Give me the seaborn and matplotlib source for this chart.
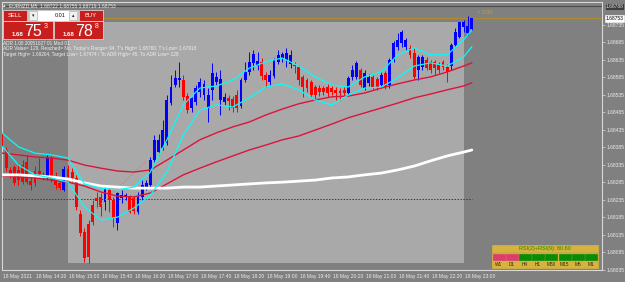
import matplotlib
matplotlib.use("Agg")
import matplotlib.pyplot as plt
import matplotlib.transforms as mtransforms
from matplotlib.patches import Rectangle
from matplotlib.ticker import FormatStrFormatter
import numpy as np
import seaborn as sns

# EURNZD M5, 18 May 2021, one entry per bar from 13:40 to 23:10
opens = [1.68426, 1.68377, 1.68320, 1.68328, 1.68320, 1.68334, 1.68343, 1.68288, 1.68317, 1.68317,
         1.68300, 1.68297, 1.68354, 1.68300, 1.68283, 1.68263, 1.68323, 1.68314, 1.68297, 1.68194,
         1.68142, 1.68165, 1.68220, 1.68240, 1.68243, 1.68228, 1.68263, 1.68234, 1.68168, 1.68240,
         1.68243, 1.68243, 1.68240, 1.68200, 1.68243, 1.68271, 1.68277, 1.68348, 1.68371, 1.68383,
         1.68397, 1.68511, 1.68563, 1.68577, 1.68577, 1.68531, 1.68497, 1.68514, 1.68543, 1.68534,
         1.68497, 1.68549, 1.68571, 1.68520, 1.68514, 1.68526, 1.68523, 1.68534, 1.68503, 1.68577,
         1.68600, 1.68626, 1.68617, 1.68629, 1.68592, 1.68571, 1.68589, 1.68629, 1.68640, 1.68634,
         1.68623, 1.68620, 1.68614, 1.68586, 1.68577, 1.68571, 1.68557, 1.68554, 1.68554, 1.68557,
         1.68554, 1.68549, 1.68546, 1.68549, 1.68540, 1.68586, 1.68586, 1.68606, 1.68554, 1.68569,
         1.68586, 1.68580, 1.68563, 1.68597, 1.68563, 1.68634, 1.68672, 1.68683, 1.68672, 1.68669,
         1.68654, 1.68606, 1.68614, 1.68634, 1.68629, 1.68629, 1.68620, 1.68629, 1.68614, 1.68617,
         1.68677, 1.68700, 1.68729, 1.68712, 1.68722]
highs = [1.68440, 1.68386, 1.68328, 1.68334, 1.68340, 1.68348, 1.68363, 1.68303, 1.68331, 1.68354,
         1.68314, 1.68363, 1.68360, 1.68314, 1.68291, 1.68331, 1.68334, 1.68325, 1.68305, 1.68205,
         1.68154, 1.68177, 1.68234, 1.68257, 1.68254, 1.68277, 1.68268, 1.68243, 1.68257, 1.68263,
         1.68254, 1.68248, 1.68245, 1.68257, 1.68291, 1.68291, 1.68357, 1.68420, 1.68423, 1.68463,
         1.68534, 1.68592, 1.68606, 1.68629, 1.68592, 1.68540, 1.68529, 1.68563, 1.68583, 1.68577,
         1.68554, 1.68626, 1.68600, 1.68606, 1.68540, 1.68534, 1.68531, 1.68549, 1.68583, 1.68629,
         1.68657, 1.68663, 1.68657, 1.68640, 1.68600, 1.68606, 1.68640, 1.68663, 1.68657, 1.68669,
         1.68663, 1.68629, 1.68620, 1.68592, 1.68583, 1.68577, 1.68563, 1.68563, 1.68560, 1.68566,
         1.68560, 1.68557, 1.68554, 1.68557, 1.68589, 1.68620, 1.68631, 1.68611, 1.68606, 1.68594,
         1.68592, 1.68586, 1.68600, 1.68603, 1.68640, 1.68689, 1.68712, 1.68720, 1.68697, 1.68677,
         1.68669, 1.68649, 1.68649, 1.68643, 1.68634, 1.68634, 1.68629, 1.68634, 1.68623, 1.68683,
         1.68726, 1.68743, 1.68749, 1.68760, 1.68755]
lows = [1.68377, 1.68317, 1.68297, 1.68277, 1.68277, 1.68280, 1.68280, 1.68263, 1.68274, 1.68300,
        1.68291, 1.68291, 1.68285, 1.68265, 1.68263, 1.68260, 1.68291, 1.68285, 1.68205, 1.68131,
        1.68057, 1.68054, 1.68162, 1.68211, 1.68188, 1.68205, 1.68200, 1.68157, 1.68148, 1.68225,
        1.68234, 1.68197, 1.68194, 1.68194, 1.68234, 1.68263, 1.68268, 1.68343, 1.68363, 1.68377,
        1.68391, 1.68506, 1.68557, 1.68557, 1.68520, 1.68483, 1.68486, 1.68506, 1.68529, 1.68520,
        1.68457, 1.68520, 1.68563, 1.68477, 1.68506, 1.68491, 1.68486, 1.68486, 1.68497, 1.68571,
        1.68592, 1.68606, 1.68606, 1.68577, 1.68557, 1.68563, 1.68583, 1.68623, 1.68629, 1.68614,
        1.68611, 1.68597, 1.68563, 1.68529, 1.68543, 1.68529, 1.68520, 1.68531, 1.68534, 1.68529,
        1.68534, 1.68520, 1.68520, 1.68531, 1.68534, 1.68577, 1.68580, 1.68557, 1.68549, 1.68560,
        1.68551, 1.68549, 1.68554, 1.68551, 1.68554, 1.68629, 1.68663, 1.68672, 1.68663, 1.68640,
        1.68580, 1.68577, 1.68606, 1.68606, 1.68597, 1.68592, 1.68597, 1.68606, 1.68571, 1.68606,
        1.68672, 1.68697, 1.68714, 1.68705, 1.68719]
closes = [1.68386, 1.68325, 1.68303, 1.68283, 1.68291, 1.68285, 1.68285, 1.68277, 1.68283, 1.68308,
          1.68297, 1.68354, 1.68291, 1.68277, 1.68268, 1.68323, 1.68300, 1.68297, 1.68214, 1.68140,
          1.68068, 1.68071, 1.68171, 1.68231, 1.68214, 1.68266, 1.68234, 1.68182, 1.68254, 1.68248,
          1.68248, 1.68200, 1.68203, 1.68243, 1.68277, 1.68283, 1.68348, 1.68406, 1.68406, 1.68434,
          1.68520, 1.68557, 1.68583, 1.68583, 1.68529, 1.68491, 1.68526, 1.68554, 1.68571, 1.68566,
          1.68534, 1.68597, 1.68586, 1.68580, 1.68529, 1.68517, 1.68497, 1.68497, 1.68577, 1.68600,
          1.68629, 1.68652, 1.68631, 1.68589, 1.68577, 1.68592, 1.68634, 1.68649, 1.68652, 1.68654,
          1.68649, 1.68617, 1.68577, 1.68557, 1.68554, 1.68534, 1.68534, 1.68543, 1.68543, 1.68540,
          1.68543, 1.68540, 1.68540, 1.68540, 1.68583, 1.68606, 1.68626, 1.68563, 1.68597, 1.68586,
          1.68557, 1.68557, 1.68592, 1.68557, 1.68634, 1.68683, 1.68692, 1.68714, 1.68692, 1.68649,
          1.68586, 1.68643, 1.68643, 1.68611, 1.68606, 1.68611, 1.68606, 1.68614, 1.68600, 1.68677,
          1.68714, 1.68743, 1.68743, 1.68731, 1.68753]

# indicator lines, read every 4th bar
line_bars = [0, 4, 8, 12, 16, 20, 24, 28, 32, 36, 40, 44, 48, 52, 56, 60, 64, 68, 72, 76,
             80, 84, 88, 92, 96, 100, 104, 108, 112, 114]
cyan_upper = [1.68426, 1.68386, 1.68368, 1.68363, 1.68354, 1.68280, 1.68268, 1.68263, 1.68271, 1.68314,
              1.68406, 1.68506, 1.68554, 1.68560, 1.68577, 1.68611, 1.68629, 1.68640, 1.68617, 1.68586,
              1.68563, 1.68557, 1.68586, 1.68600, 1.68649, 1.68669, 1.68649, 1.68649, 1.68692, 1.68720]
cyan_lower = [1.68388, 1.68334, 1.68306, 1.68297, 1.68285, 1.68214, 1.68177, 1.68185, 1.68211, 1.68248,
              1.68314, 1.68420, 1.68491, 1.68506, 1.68500, 1.68526, 1.68557, 1.68566, 1.68549, 1.68520,
              1.68506, 1.68534, 1.68554, 1.68557, 1.68583, 1.68617, 1.68626, 1.68617, 1.68643, 1.68672]
ma_fast = [1.68368, 1.68363, 1.68357, 1.68354, 1.68348, 1.68334, 1.68325, 1.68317, 1.68314, 1.68320,
           1.68348, 1.68377, 1.68406, 1.68426, 1.68443, 1.68457, 1.68477, 1.68494, 1.68509, 1.68520,
           1.68529, 1.68531, 1.68540, 1.68554, 1.68566, 1.68577, 1.68586, 1.68600, 1.68617, 1.68626]
ma_slow = [1.68303, 1.68300, 1.68297, 1.68291, 1.68285, 1.68274, 1.68257, 1.68245, 1.68243, 1.68254,
           1.68280, 1.68306, 1.68325, 1.68343, 1.68360, 1.68377, 1.68391, 1.68406, 1.68417, 1.68434,
           1.68451, 1.68469, 1.68483, 1.68497, 1.68511, 1.68526, 1.68537, 1.68549, 1.68560, 1.68569]
ma_long = [1.68306, 1.68306, 1.68303, 1.68300, 1.68294, 1.68283, 1.68274, 1.68271, 1.68268, 1.68268,
           1.68268, 1.68271, 1.68271, 1.68274, 1.68277, 1.68280, 1.68283, 1.68285, 1.68288, 1.68291,
           1.68297, 1.68300, 1.68306, 1.68311, 1.68320, 1.68331, 1.68346, 1.68360, 1.68371, 1.68377]

pivot_level = 1.68238
fib_bars = [23, 35]
fib_prices = [1.68211, 1.68346]
session_start, session_end = 16, 112
ask = 1.68788

x_tick_bars = list(range(0, 113, 8))
x_labels = ["18 May 2021", "18 May 14:20", "18 May 15:00", "18 May 15:40", "18 May 16:20",
            "18 May 17:00", "18 May 17:40", "18 May 18:20", "18 May 19:00", "18 May 19:40",
            "18 May 20:20", "18 May 21:00", "18 May 21:40", "18 May 22:20", "18 May 23:00"]

adr_lines = ["ADR 1.00 20051027 01 Mod 01",
             "ADR Value= 129, Reached= No, Today's Range= 94, T's High= 1.68760, T's Low= 1.67918",
             "Target High= 1.69204, Target Low= 1.67474 / To ADR High= 45, To ADR Low= 128"]
rsi_value = 80.60
tf_labels = ["W1", "D1", "H4", "H1", "M30", "M15", "M5", "M1"]
tf_up = [False, False, True, True, True, True, True, True]

sns.set_style("dark")
plt.rcParams['font.family'] = ['Liberation Sans', 'DejaVu Sans']

W, H = 625, 282
BG = '#808080'
fig = plt.figure(figsize=(W / 100, H / 100), dpi=100, facecolor=BG)
ax = fig.add_axes([2 / W, 12 / H, 600 / W, 268 / H])
ax.set_facecolor(BG)

o = np.array(opens)
h = np.array(highs)
l = np.array(lows)
c = np.array(closes)
bars = np.arange(len(o))

# session range box 15:00 - 23:00
s_hi = h[session_start:session_end].max()
s_lo = l[session_start:session_end].min()
ax.add_patch(Rectangle((session_start, s_lo), session_end - session_start, s_hi - s_lo,
                       fc='#a9a9a9', ec='none', zorder=0.5))

cols = np.where(c >= o, '#0000ff', '#ff0000')
ax.vlines(bars, l, h, colors=cols, lw=0.7, zorder=2)
ax.bar(bars, np.maximum(np.abs(c - o), 0.00002), bottom=np.minimum(o, c), width=0.7,
       color=cols, lw=0, zorder=3)

ax.hlines(pivot_level, 0, bars[-1], colors='#3a3a3a', lw=0.7, linestyles=(0, (1.5, 1.5)), zorder=1)
ax.plot(fib_bars, fib_prices, ls=':', color='#e87068', lw=0.8, zorder=4)

sns.lineplot(x=line_bars, y=ma_slow, ax=ax, color='#dc143c', lw=1.0, zorder=4)
sns.lineplot(x=line_bars, y=ma_fast, ax=ax, color='#dc143c', lw=1.0, zorder=4)
sns.lineplot(x=line_bars, y=ma_long, ax=ax, color='#ffffff', lw=2.0, zorder=4)
sns.lineplot(x=line_bars, y=cyan_upper, ax=ax, color='#00ffff', lw=0.9, zorder=5)
sns.lineplot(x=line_bars, y=cyan_lower, ax=ax, color='#00ffff', lw=0.9, zorder=5)

bid = c[-1]
ax.axhline(bid, color='#b08a30', lw=0.9, zorder=1.5)
ax.axhline(ask, color='#4a4a4a', lw=0.8, zorder=1.5)
ax.text(bars[-1] + 1.3, bid + 0.0001, "< 2:00", color='#c8a040', fontsize=4, va='bottom')

ax.set_xlim((2 - 1.5) / 4.125, (602 - 1.5) / 4.125)
ax.set_ylim(1.68034, 1.68800)

ax.yaxis.tick_right()
ax.set_yticks(np.arange(1.68035, 1.68736, 0.0005))
ax.yaxis.set_major_formatter(FormatStrFormatter('%.5f'))
ax.tick_params(axis='y', direction='out', length=2.5, width=0.5, color='#d8d8d8',
               labelcolor='#ececec', labelsize=3.6, pad=1)
ax.set_xticks(x_tick_bars)
ax.set_xticklabels(x_labels, ha='left')
ax.tick_params(axis='x', direction='out', length=2.2, width=0.5, color='#d8d8d8',
               labelcolor='#ececec', labelsize=3.6, pad=0.8)
shift = mtransforms.ScaledTranslation(1.2 / 100, 0, fig.dpi_scale_trans)
for lbl in ax.get_xticklabels():
    lbl.set_transform(lbl.get_transform() + shift)
ax.grid(False)
for sp in ax.spines.values():
    sp.set_visible(True)
    sp.set_color('#d8d8d8')
    sp.set_linewidth(0.8)

trans = mtransforms.blended_transform_factory(ax.transAxes, ax.transData)
ax.text(1.006, ask, f"{ask:.5f}", transform=trans, fontsize=3.6, color='#e0e0e0', va='center',
        ha='left', bbox=dict(fc='#3c3c3c', ec='#9a9a9a', lw=0.4, pad=0.6), zorder=6)
ax.text(1.006, bid, f"{bid:.5f}", transform=trans, fontsize=3.6, color='#000000', va='center',
        ha='left', bbox=dict(fc='#ffffff', ec='#ffffff', lw=0.4, pad=0.6), zorder=6)


def px_box(x0, y0, x1, y1, fc, ec=None, lw=0.5):
    fig.add_artist(Rectangle((x0 / W, 1 - y1 / H), (x1 - x0) / W, (y1 - y0) / H,
                             transform=fig.transFigure, fc=fc, ec=ec or fc, lw=lw, zorder=6))


def px_text(x, y, s, **kw):
    fig.text(x / W, 1 - y / H, s, zorder=7, **kw)


# title and one-click trading panel
px_text(9, 5.5, f"EURNZD,M5  {o[-1]:.5f} {h[-1]:.5f} {l[-1]:.5f} {c[-1]:.5f}",
        fontsize=3.5, color='#f0f0f0', va='center')
px_text(3, 5.5, "▴", fontsize=3.5, color='#f0f0f0', va='center')
px_box(3, 10, 27, 21, '#c81e1e', '#e8e8e8')
px_text(15, 15.7, "SELL", fontsize=4.2, color='white', ha='center', va='center')
px_box(28, 10, 78, 21, '#ffffff', '#c8c8c8')
px_box(29, 11, 37, 20, '#f0f0f0', '#a0a0a0', 0.4)
px_box(69, 11, 77, 20, '#f0f0f0', '#a0a0a0', 0.4)
px_text(33, 15.7, "▾", fontsize=3.5, color='#202020', ha='center', va='center')
px_text(73, 15.7, "▴", fontsize=3.5, color='#202020', ha='center', va='center')
px_text(66, 15.7, "0.01", fontsize=4, color='#101010', ha='right', va='center')
px_box(79, 10, 103, 21, '#c81e1e', '#e8e8e8')
px_text(91, 15.7, "BUY", fontsize=4.2, color='white', ha='center', va='center')

for (x0, x1), price in [((3, 53), bid), ((54, 103), ask)]:
    s = f"{price:.5f}"
    px_box(x0, 21, x1, 39, '#c81e1e', '#e8e8e8')
    px_text(x0 + 9, 36, s[:4], fontsize=4.3, color='white', fontweight='bold', va='baseline')
    px_text(x0 + 21.5, 36.5, s[4:6], fontsize=11.5, color='white', va='baseline')
    px_text(x0 + 40.5, 22.5, s[6], fontsize=5, color='white', va='top')

for k, line in enumerate(adr_lines):
    px_text(3, 43 + 5.8 * k, line, fontsize=3.4, color='#f0f0f0', va='center')

# RSI multi-timeframe panel
px_box(492, 245, 598, 252, '#d6b33c')
px_text(545, 248.6, f"RSI(2)+RSI(9): {rsi_value:.2f}", fontsize=4, color='#2a8a00',
        ha='center', va='center')
px_box(492, 253, 598, 268, '#d6b33c')
for k, (lab, up) in enumerate(zip(tf_labels, tf_up)):
    cx0 = 492.5 + k * 13.2
    px_box(cx0, 254, cx0 + 12, 260, '#078c07' if up else '#dc3c6e')
    px_text(cx0 + 6, 264.5, lab, fontsize=3.4, color='#2a2a10', ha='center', va='center')

fig.savefig("out.png", dpi=100, facecolor=BG)
